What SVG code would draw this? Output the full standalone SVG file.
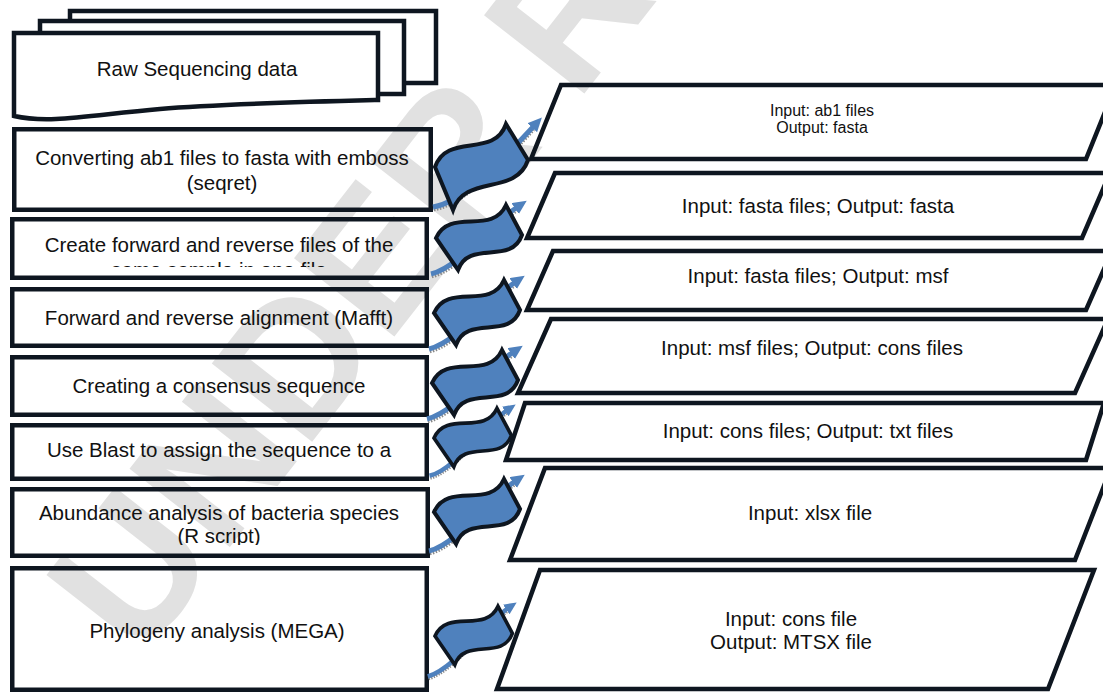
<svg xmlns="http://www.w3.org/2000/svg" width="1103" height="692" viewBox="0 0 1103 692">
<defs>
<style>
.box{fill:none;stroke:#0e1620;stroke-width:4.5;stroke-linejoin:miter}
.doc{fill:#ffffff;stroke:#0e1620;stroke-width:4.5}
.para{fill:none;stroke:#0e1620;stroke-width:4.5;stroke-linejoin:miter}
.t{font-family:"Liberation Sans",Arial,sans-serif;font-size:20.5px;fill:#111111;text-anchor:middle}
.ts{font-family:"Liberation Sans",Arial,sans-serif;font-size:16px;fill:#111111;text-anchor:middle}
.wave{fill:#4f81bd;stroke:#0e1620;stroke-width:4;stroke-linejoin:miter}
.shaft{fill:none;stroke:#4f81bd;stroke-width:5;marker-end:url(#head)}
.shadow{fill:none;stroke:#8a8a8a;stroke-width:2.5;stroke-dasharray:1.5 1.5}
.wm{font-family:"Liberation Sans",Arial,sans-serif;font-size:185px;font-weight:bold;fill:#e1e1e1}
</style>
<marker id="head" markerUnits="userSpaceOnUse" markerWidth="16" markerHeight="14" refX="1" refY="6.5" orient="auto">
<path d="M0,0 L14,6.5 L0,13 Z" fill="#4f81bd"/>
</marker>
<clipPath id="clipCreate"><rect x="14" y="221" width="410" height="46"/></clipPath>
<clipPath id="clipAbund"><rect x="14" y="491" width="410" height="54"/></clipPath>
</defs>
<rect width="1103" height="692" fill="#ffffff"/>
<g id="watermark">
<text class="wm" transform="translate(140,662) rotate(-52)">UNDER REVIEW</text>
</g>
<g id="raw-data">
<rect class="doc" x="70" y="11" width="366" height="72"/>
<rect class="doc" x="40" y="21" width="364" height="73"/>
<path class="doc" d="M14,33 L378,33 L378,100 C 300,102 220,104 160,109 C 90,115 50,124 14,116 Z"/>
<text class="t" x="197" y="76">Raw Sequencing data</text>
</g>
<g id="step-convert">
<rect class="box" x="14.25" y="129.25" width="416.5" height="80.5"/>
<text class="t" x="222" y="165">Converting ab1 files to fasta with emboss</text>
<text class="t" x="222" y="190">(seqret)</text>
</g>
<g id="step-create">
<rect class="box" x="12.25" y="219.25" width="414.5" height="58.5"/>
<g clip-path="url(#clipCreate)">
<text class="t" x="219" y="252">Create forward and reverse files of the</text>
<text class="t" x="219" y="277">same sample in one file</text>
</g>
</g>
<g id="step-align">
<rect class="box" x="12.25" y="289.25" width="414.5" height="56.5"/>
<text class="t" x="219" y="325">Forward and reverse alignment (Mafft)</text>
</g>
<g id="step-consensus">
<rect class="box" x="12.25" y="357.25" width="414.5" height="57.5"/>
<text class="t" x="219" y="393">Creating a consensus sequence</text>
</g>
<g id="step-blast">
<rect class="box" x="12.25" y="425.25" width="414.5" height="53.5"/>
<text class="t" x="219" y="457">Use Blast to assign the sequence to a</text>
</g>
<g id="step-abundance">
<rect class="box" x="12.25" y="489.25" width="415.5" height="66.5"/>
<g clip-path="url(#clipAbund)">
<text class="t" x="219" y="520">Abundance analysis of bacteria species</text>
<text class="t" x="219" y="543">(R script)</text>
</g>
</g>
<g id="step-phylogeny">
<rect class="box" x="12.25" y="568.25" width="414.5" height="121.5"/>
<text class="t" x="217" y="638">Phylogeny analysis (MEGA)</text>
</g>
<g id="io-1">
<polygon class="para" points="561,85 1116,85 1086,159 531,159"/>
<text class="ts" x="822" y="116">Input: ab1 files</text>
<text class="ts" x="822" y="133">Output: fasta</text>
</g>
<g id="io-2">
<polygon class="para" points="555,173 1110,173 1082,238 527,238"/>
<text class="t" x="818" y="213">Input: fasta files; Output: fasta</text>
</g>
<g id="io-3">
<polygon class="para" points="553,251 1112,251 1086,310 527,310"/>
<text class="t" x="818" y="283">Input: fasta files; Output: msf</text>
</g>
<g id="io-4">
<polygon class="para" points="551,319 1108,319 1075,393 518,393"/>
<text class="t" x="812" y="355">Input: msf files; Output: cons files</text>
</g>
<g id="io-5">
<polygon class="para" points="525,403 1104,403 1086,460 506,460"/>
<text class="t" x="808" y="438">Input: cons files; Output: txt files</text>
</g>
<g id="io-6">
<polygon class="para" points="545,468 1111,468 1075,560 510,560"/>
<text class="t" x="810" y="520">Input: xlsx file</text>
</g>
<g id="io-7">
<polygon class="para" points="540,570 1094,570 1048,689 497,689"/>
<text class="t" x="791" y="626">Input: cons file</text>
<text class="t" x="791" y="649">Output: MTSX file</text>
</g>
<g id="connectors">
<g transform="translate(435,167)">
<path class="shadow" d="M-1,43 C 31,38 71,-7 99,-37"/>
<path class="shaft" d="M-2,40 C 30,35 70,-10 98,-40"/>
<path class="wave" d="M0,0 C12,-35 59,-8 71,-43 L93,-7 C81,29 30,7 18,43 Z"/>
</g>
<g transform="translate(436,238)">
<path class="shadow" d="M-4,39 C 23,33 59,-12 81,-27"/>
<path class="shaft" d="M-5,36 C 22,30 58,-15 80,-30"/>
<path class="wave" d="M0,0 C14,-31 56,-2 70,-33 L86,-3 C75,28 33,1 22,32 Z"/>
</g>
<g transform="translate(434,313)">
<path class="shadow" d="M-4,39 C 23,33 59,-12 81,-27"/>
<path class="shaft" d="M-5,36 C 22,30 58,-15 80,-30"/>
<path class="wave" d="M0,0 C14,-31 56,-2 70,-33 L86,-3 C75,28 33,1 22,32 Z"/>
</g>
<g transform="translate(432,383)">
<path class="shadow" d="M-4,39 C 23,33 59,-12 81,-27"/>
<path class="shaft" d="M-5,36 C 22,30 58,-15 80,-30"/>
<path class="wave" d="M0,0 C14,-31 56,-2 70,-33 L86,-3 C75,28 33,1 22,32 Z"/>
</g>
<g transform="translate(434,438) scale(0.9)">
<path class="shadow" d="M-4,45 C 23,39 59,-12 81,-27"/>
<path class="shaft" d="M-5,42 C 22,36 58,-15 80,-30"/>
<path class="wave" d="M0,0 C14,-31 56,-2 70,-33 L86,-3 C75,28 33,1 22,32 Z"/>
</g>
<g transform="translate(434,512)">
<path class="shadow" d="M-4,42 C 23,36 59,-12 81,-27"/>
<path class="shaft" d="M-5,39 C 22,33 58,-15 80,-30"/>
<path class="wave" d="M0,0 C14,-31 56,-2 70,-33 L86,-3 C75,28 33,1 22,32 Z"/>
</g>
<g transform="translate(435,636) scale(0.9)">
<path class="shadow" d="M-7,48 C 23,39 59,-12 81,-27"/>
<path class="shaft" d="M-8,45 C 22,36 58,-15 80,-30"/>
<path class="wave" d="M0,0 C14,-31 56,-2 70,-33 L86,-3 C75,28 33,1 22,32 Z"/>
</g>
</g>
</svg>
